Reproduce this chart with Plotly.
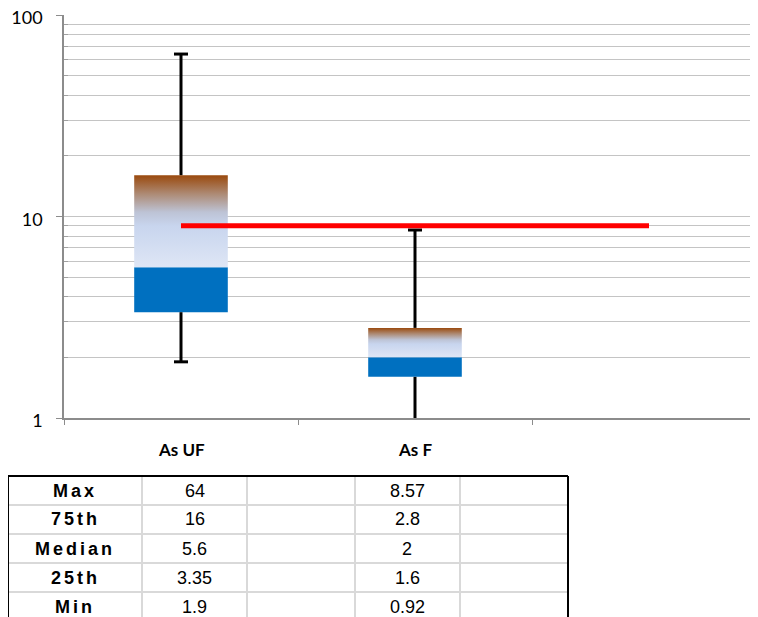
import plotly.graph_objects as go

# ---------------- data ----------------
categories = ["As UF", "As F", ""]
stat_labels = ["Max", "75th", "Median", "25th", "Min"]
max_vals = [64, 8.57]
q3_vals = [16, 2.8]
median_vals = [5.6, 2]
q1_vals = [3.35, 1.6]
min_vals = [1.9, 0.92]
threshold = 9
y_major = [1, 10, 100]
y_major_text = ["1", "10", "100"]

# ---------------- layout helpers ----------------
W, H = 750, 617
OFF = 8  # page body margin offset
CAT_PX = 234
PLOT_L, PLOT_T, PLOT_B = 64 - OFF, 15 - OFF, 418 - OFF


def fx(px):
    return px / W


def fy(py):
    return 1 - py / H


idx = list(range(len(max_vals)))
box_w = 0.4
grad = [
    [0.0, "#DEE6F5"],
    [0.45, "#C8D5EE"],
    [0.6, "#BDC3D5"],
    [0.8, "#AD8A74"],
    [1.0, "#9A4A0E"],
]

fig = go.Figure()

# lower (solid) part of the box: 25th -> median
fig.add_trace(go.Bar(
    x=idx,
    y=[m - q for m, q in zip(median_vals, q1_vals)],
    base=q1_vals,
    width=box_w,
    marker=dict(color="#0070C0", line=dict(width=0)),
    hoverinfo="skip",
))

# whiskers (drawn as lines) with caps
wx, wy = [], []
for i in idx:
    wx += [i, i, None, i, i, None]
    wy += [q3_vals[i], max_vals[i], None, q1_vals[i], min_vals[i], None]
fig.add_trace(go.Scatter(
    x=wx, y=wy, mode="lines",
    line=dict(color="black", width=3),
    hoverinfo="skip",
))
fig.add_trace(go.Scatter(
    x=idx + idx, y=max_vals + min_vals, mode="markers",
    marker=dict(symbol="line-ew", size=10, line=dict(color="black", width=3)),
    cliponaxis=True,
    hoverinfo="skip",
))

# upper (gradient) part of the box: median -> 75th
for i in idx:
    x0, x1 = i - box_w / 2, i + box_w / 2
    fig.add_trace(go.Scatter(
        x=[x0, x1, x1, x0, x0],
        y=[median_vals[i], median_vals[i], q3_vals[i], q3_vals[i], median_vals[i]],
        mode="lines", fill="toself",
        line=dict(width=0),
        fillgradient=dict(type="vertical", colorscale=grad),
        hoverinfo="skip",
    ))

# red reference line
fig.add_trace(go.Scatter(
    x=[0, len(categories) - 1], y=[threshold, threshold], mode="lines",
    line=dict(color="#FF0000", width=5),
    hoverinfo="skip",
))

# minor log grid values
minor_vals = [d * 10 ** k for k in range(2) for d in range(2, 10)]

fig.update_layout(
    width=W, height=H,
    margin=dict(l=0, r=0, t=0, b=0),
    paper_bgcolor="white", plot_bgcolor="white",
    showlegend=False,
    xaxis=dict(
        domain=[fx(PLOT_L), 1],
        range=[-0.5, len(categories) - 0.5 - 8 / CAT_PX],
        tickvals=[i - 0.5 for i in range(len(categories) + 1)],
        ticktext=[""] * (len(categories) + 1),
        ticks="outside", ticklen=5, tickwidth=1.3, tickcolor="#8C8C8C",
        showline=True, linecolor="#8C8C8C", linewidth=1.6,
        showgrid=False, zeroline=False, automargin=False,
        fixedrange=True,
    ),
    yaxis=dict(
        type="log",
        domain=[fy(PLOT_B), fy(PLOT_T)],
        range=[0, 2],
        tickvals=y_major, ticktext=y_major_text,
        ticks="outside", ticklen=6, tickwidth=1.3, tickcolor="#8C8C8C",
        ticklabelstandoff=10, ticklabelshift=3, ticklabeloverflow="allow",
        tickfont=dict(family="Lato", size=18, color="black"),
        showline=True, linecolor="#8C8C8C", linewidth=1.6,
        showgrid=True, gridcolor="#C4C4C4", gridwidth=1.3,
        minor=dict(tickvals=minor_vals, showgrid=True, gridcolor="#C4C4C4",
                   gridwidth=1.3, ticks="inside", ticklen=4, tickcolor="#A0A0A0"),
        zeroline=False, automargin=False, fixedrange=True,
    ),
)

# category labels
for i, c in enumerate(categories):
    if c:
        fig.add_annotation(
            x=i, xref="x", y=fy(449 - OFF), yref="paper",
            text=f"<b>{c}</b>", showarrow=False,
            xanchor="center", yanchor="middle",
            font=dict(family="Lato", size=17, color="black"),
        )

# ---------------- data table ----------------
col_edges = [e - OFF for e in (8, 142, 247, 355, 460, 568)]
row_top = 476 - OFF
row_h = 29
n_rows = len(stat_labels)
shapes = []
gray = "#D9D9D9"
# inner vertical lines
for xe in col_edges[1:-1]:
    shapes.append(dict(type="line", xref="paper", yref="paper",
                       x0=fx(xe), x1=fx(xe), y0=fy(row_top), y1=fy(H + 5),
                       line=dict(color=gray, width=2)))
# inner horizontal lines
for r in range(1, n_rows):
    yy = row_top + r * row_h
    shapes.append(dict(type="line", xref="paper", yref="paper",
                       x0=fx(col_edges[0]), x1=fx(col_edges[-1]), y0=fy(yy), y1=fy(yy),
                       line=dict(color=gray, width=2)))
# outer border
for xe in (col_edges[0], col_edges[-1]):
    shapes.append(dict(type="line", xref="paper", yref="paper",
                       x0=fx(xe), x1=fx(xe), y0=fy(row_top), y1=fy(H + 5),
                       line=dict(color="black", width=2)))
shapes.append(dict(type="line", xref="paper", yref="paper",
                   x0=fx(col_edges[0]), x1=fx(col_edges[-1]), y0=fy(row_top), y1=fy(row_top),
                   line=dict(color="black", width=2)))
fig.update_layout(shapes=shapes)

col_centers = [(a + b) / 2 for a, b in zip(col_edges[:-1], col_edges[1:])]
columns = [max_vals, q3_vals, median_vals, q1_vals, min_vals]
for r, lab in enumerate(stat_labels):
    yc = row_top + row_h * (r + 0.5)
    fig.add_annotation(
        x=fx(col_centers[0]), xref="paper", y=fy(yc), yref="paper",
        text=f"<span style='letter-spacing:3px'><b>{lab}</b></span>",
        showarrow=False, xanchor="center", yanchor="middle",
        font=dict(family="Liberation Sans", size=18, color="black"),
    )
    for j, ci in enumerate(idx):
        v = columns[r][ci]
        fig.add_annotation(
            x=fx(col_centers[1 + 2 * j]), xref="paper", y=fy(yc), yref="paper",
            text=str(v), showarrow=False, xanchor="center", yanchor="middle",
            font=dict(family="Liberation Sans", size=18, color="black"),
        )

fig.write_html("out.html")
